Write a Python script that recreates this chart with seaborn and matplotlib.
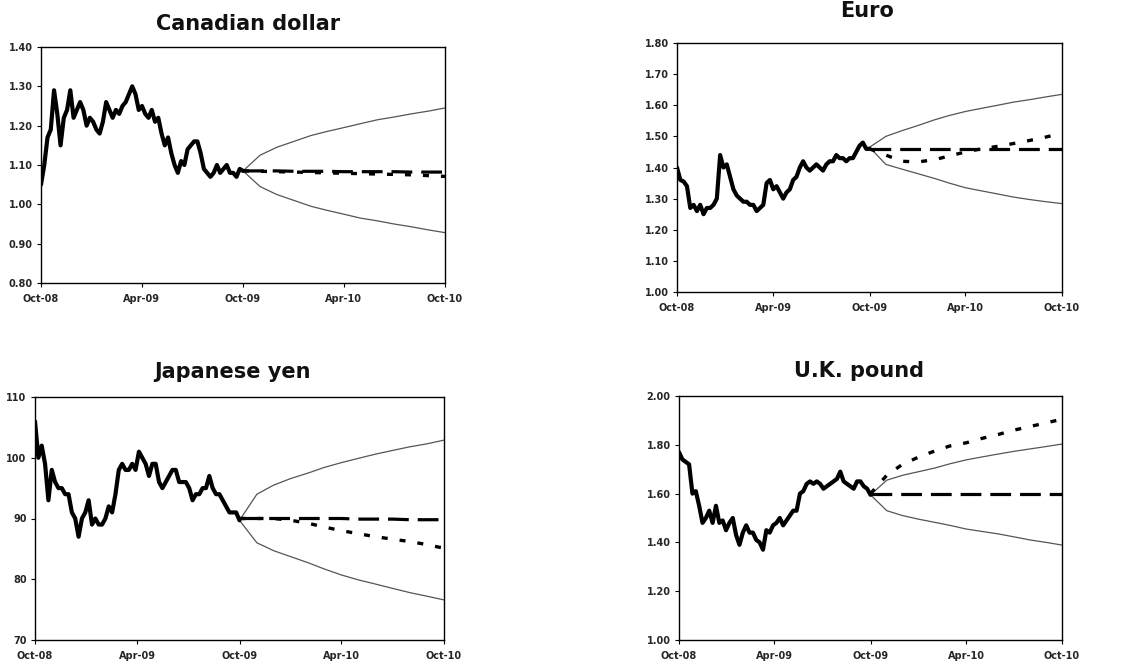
import numpy as np
import pandas as pd
import matplotlib
matplotlib.use("Agg")
import matplotlib.pyplot as plt
import matplotlib.dates as mdates
import seaborn as sns

# ---------------- data ----------------
tick_labels = ["Oct-08", "Apr-09", "Oct-09", "Apr-10", "Oct-10"]
tick_dates = ["2008-10-01", "2009-04-01", "2009-10-01", "2010-04-01", "2010-10-01"]

cad_hist = [1.05, 1.10, 1.17, 1.19, 1.29, 1.23, 1.15, 1.22, 1.24, 1.29, 1.22, 1.24, 1.26,
            1.24, 1.20, 1.22, 1.21, 1.19, 1.18, 1.21, 1.26, 1.24, 1.22, 1.24, 1.23, 1.25,
            1.26, 1.28, 1.30, 1.28, 1.24, 1.25, 1.23, 1.22, 1.24, 1.21, 1.22, 1.18, 1.15,
            1.17, 1.13, 1.10, 1.08, 1.11, 1.10, 1.14, 1.15, 1.16, 1.16, 1.13, 1.09, 1.08,
            1.07, 1.08, 1.10, 1.08, 1.09, 1.10, 1.08, 1.08, 1.07, 1.09, 1.085]
cad_upper = [1.085, 1.125, 1.145, 1.16, 1.175, 1.185, 1.195, 1.205, 1.215, 1.222, 1.23, 1.237, 1.245]
cad_lower = [1.085, 1.045, 1.025, 1.01, 0.995, 0.985, 0.975, 0.965, 0.958, 0.95, 0.943, 0.935, 0.928]
cad_forward = [1.085, 1.085, 1.085, 1.084, 1.084, 1.084, 1.083, 1.083, 1.083, 1.083, 1.082, 1.082, 1.082]
cad_consensus = [1.085, 1.084, 1.083, 1.082, 1.081, 1.08, 1.079, 1.078, 1.077, 1.076, 1.075, 1.073, 1.071]

eur_hist = [1.40, 1.36, 1.355, 1.34, 1.27, 1.28, 1.26, 1.28, 1.25, 1.27, 1.27, 1.28, 1.30,
            1.44, 1.40, 1.41, 1.37, 1.33, 1.31, 1.30, 1.29, 1.29, 1.28, 1.28, 1.26, 1.27,
            1.28, 1.35, 1.36, 1.33, 1.34, 1.32, 1.30, 1.32, 1.33, 1.36, 1.37, 1.40, 1.42,
            1.40, 1.39, 1.40, 1.41, 1.40, 1.39, 1.41, 1.42, 1.42, 1.44, 1.43, 1.43, 1.42,
            1.43, 1.43, 1.45, 1.47, 1.48, 1.46, 1.46]
eur_upper = [1.465, 1.50, 1.518, 1.535, 1.553, 1.567, 1.58, 1.59, 1.60, 1.61, 1.618, 1.627, 1.635]
eur_lower = [1.465, 1.41, 1.395, 1.38, 1.365, 1.35, 1.335, 1.325, 1.315, 1.305, 1.297, 1.29, 1.284]
eur_forward = [1.458] * 13
eur_consensus = [1.46, 1.44, 1.42, 1.418, 1.425, 1.437, 1.45, 1.46, 1.468, 1.477, 1.487, 1.498, 1.51]

jpy_hist = [106, 100, 102, 99, 93, 98, 96, 95, 95, 94, 94, 91, 90, 87, 90, 91, 93, 89,
            90, 89, 89, 90, 92, 91, 94, 98, 99, 98, 98, 99, 98, 101, 100, 99, 97, 99,
            99, 96, 95, 96, 97, 98, 98, 96, 96, 96, 95, 93, 94, 94, 95, 95, 97, 95,
            94, 94, 93, 92, 91, 91, 91, 89.7]
jpy_upper = [89.7, 94.0, 95.5, 96.6, 97.5, 98.4, 99.2, 99.9, 100.6, 101.2, 101.8, 102.3, 102.9]
jpy_lower = [89.7, 86.0, 84.7, 83.7, 82.7, 81.7, 80.7, 79.9, 79.2, 78.5, 77.8, 77.2, 76.6]
jpy_forward = [90.0, 90.0, 90.0, 90.0, 90.0, 90.0, 90.0, 89.9, 89.9, 89.9, 89.8, 89.8, 89.8]
jpy_consensus = [90.0, 90.0, 90.0, 89.7, 89.2, 88.6, 88.0, 87.5, 87.0, 86.6, 86.2, 85.7, 85.1]

gbp_hist = [1.77, 1.74, 1.73, 1.72, 1.60, 1.61, 1.55, 1.48, 1.50, 1.53, 1.48, 1.55, 1.48,
            1.49, 1.45, 1.48, 1.50, 1.43, 1.39, 1.44, 1.47, 1.44, 1.44, 1.41, 1.40, 1.37,
            1.45, 1.44, 1.47, 1.48, 1.50, 1.47, 1.49, 1.51, 1.53, 1.53, 1.60, 1.61, 1.64,
            1.65, 1.64, 1.65, 1.64, 1.62, 1.63, 1.64, 1.65, 1.66, 1.69, 1.65, 1.64, 1.63,
            1.62, 1.65, 1.65, 1.63, 1.62, 1.595]
gbp_upper = [1.595, 1.655, 1.675, 1.69, 1.705, 1.722, 1.738, 1.75, 1.762, 1.773, 1.783, 1.793, 1.803]
gbp_lower = [1.595, 1.53, 1.51, 1.495, 1.482, 1.47, 1.455, 1.445, 1.435, 1.423, 1.41, 1.40, 1.389]
gbp_forward = [1.597] * 13
gbp_consensus = [1.60, 1.675, 1.72, 1.75, 1.775, 1.795, 1.808, 1.826, 1.842, 1.86, 1.875, 1.89, 1.905]

panels = [
    dict(title="Canadian dollar", hist=cad_hist, upper=cad_upper, lower=cad_lower,
         fwd=cad_forward, cons=cad_consensus, ylim=(0.80, 1.40), yticks=np.arange(0.80, 1.401, 0.10),
         fmt="{:.2f}", rect=[41, 47, 445, 283], title_xy=(248, 30)),
    dict(title="Euro", hist=eur_hist, upper=eur_upper, lower=eur_lower,
         fwd=eur_forward, cons=eur_consensus, ylim=(1.00, 1.80), yticks=np.arange(1.00, 1.801, 0.10),
         fmt="{:.2f}", rect=[677, 43, 1062, 292], title_xy=(867, 17)),
    dict(title="Japanese yen", hist=jpy_hist, upper=jpy_upper, lower=jpy_lower,
         fwd=jpy_forward, cons=jpy_consensus, ylim=(70, 110), yticks=np.arange(70, 111, 10),
         fmt="{:.0f}", rect=[35, 397, 444, 640], title_xy=(232, 378)),
    dict(title="U.K. pound", hist=gbp_hist, upper=gbp_upper, lower=gbp_lower,
         fwd=gbp_forward, cons=gbp_consensus, ylim=(1.00, 2.00), yticks=np.arange(1.00, 2.001, 0.20),
         fmt="{:.2f}", rect=[679, 396, 1062, 640], title_xy=(859, 377)),
]

# ---------------- drawing ----------------
sns.set_style("white")
plt.rcParams["font.family"] = ["DejaVu Sans"]

W, H = 1131, 671
fig = plt.figure(figsize=(W / 100, H / 100), dpi=100)

fc_dates = pd.date_range("2009-10-01", "2010-10-01", freq="MS")
tdates = pd.to_datetime(tick_dates)

for p in panels:
    x0, y0, x1, y1 = p["rect"]
    ax = fig.add_axes([x0 / W, 1 - y1 / H, (x1 - x0) / W, (y1 - y0) / H])
    hdates = pd.date_range("2008-10-01", "2009-10-01", periods=len(p["hist"]))
    dh = pd.DataFrame({"date": hdates, "value": p["hist"]})
    df = pd.DataFrame({"date": fc_dates, "upper": p["upper"], "lower": p["lower"],
                       "fwd": p["fwd"], "cons": p["cons"]})

    sns.lineplot(data=df, x="date", y="upper", ax=ax, color="#555555", lw=0.9, estimator=None)
    sns.lineplot(data=df, x="date", y="lower", ax=ax, color="#555555", lw=0.9, estimator=None)
    sns.lineplot(data=df, x="date", y="fwd", ax=ax, color="black", lw=2.3, estimator=None)
    ax.lines[-1].set_dashes((6.5, 2.8))
    sns.lineplot(data=df, x="date", y="cons", ax=ax, color="black", lw=2.4, estimator=None)
    ax.lines[-1].set_dashes((1.8, 3.6))
    sns.lineplot(data=dh, x="date", y="value", ax=ax, color="black", lw=3.0, estimator=None)

    ax.set_xlim(tdates[0], tdates[-1])
    ax.set_ylim(*p["ylim"])
    ax.set_xticks(tdates)
    ax.set_xticklabels(tick_labels)
    ax.set_yticks(p["yticks"])
    ax.set_yticklabels([p["fmt"].format(v) for v in p["yticks"]])
    ax.set_xlabel("")
    ax.set_ylabel("")
    for lab in ax.get_xticklabels() + ax.get_yticklabels():
        lab.set_fontsize(7)
        lab.set_fontweight("bold")
    ax.tick_params(axis="both", which="both", direction="out", length=3, width=0.8,
                   color="black", pad=3, bottom=True, left=True)
    ax.tick_params(axis="x", pad=5)
    for s in ax.spines.values():
        s.set_color("black")
        s.set_linewidth(1.0)
    ax.grid(False)

    tx, ty = p["title_xy"]
    fig.text(tx / W, 1 - ty / H, p["title"], ha="center", va="baseline",
             fontsize=15, fontweight="bold", color="#111111")

fig.savefig("out.png", dpi=100, facecolor="white")
